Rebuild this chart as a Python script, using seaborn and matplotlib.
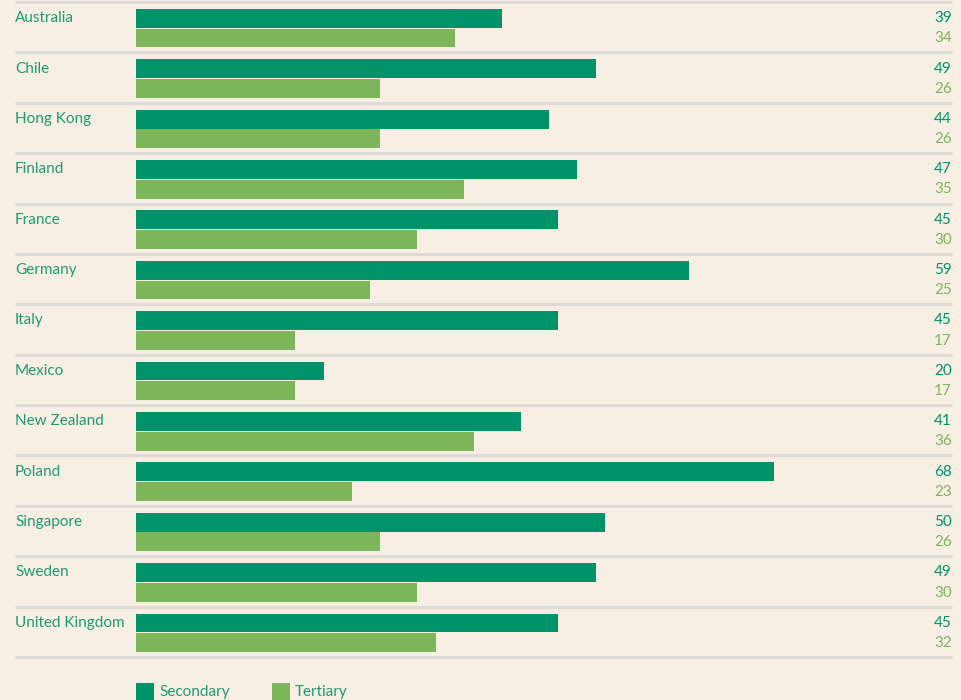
import numpy as np
import pandas as pd
import matplotlib.pyplot as plt
import matplotlib.transforms as mtransforms
from matplotlib.patches import Rectangle
import seaborn as sns

countries = ['Australia', 'Chile', 'Hong Kong', 'Finland', 'France', 'Germany', 'Italy',
             'Mexico', 'New Zealand', 'Poland', 'Singapore', 'Sweden', 'United Kingdom']
secondary = [39, 49, 44, 47, 45, 59, 45, 20, 41, 68, 50, 49, 45]
tertiary = [34, 26, 26, 35, 30, 25, 17, 17, 36, 23, 26, 30, 32]
levels = ['Secondary', 'Tertiary']

bg = '#f7efe3'
dark = '#00936a'
light = '#7db55a'
label_col = '#1f9a70'
line_col = '#dedbd6'

df = pd.DataFrame({'country': countries * 2,
                   'value': secondary + tertiary,
                   'level': [levels[0]] * len(countries) + [levels[1]] * len(countries)})

sns.set_style('white')
plt.rcParams['font.family'] = ['Lato', 'DejaVu Sans']

fig = plt.figure(figsize=(9.62, 7.0), dpi=100, facecolor=bg)
W, H = 962, 700
ax = fig.add_axes([136 / W, (H - 657) / H, (952 - 136) / W, 655 / H])
ax.set_facecolor(bg)

sns.barplot(data=df, x='value', y='country', hue='level', orient='h',
            palette=[dark, light], saturation=1, width=0.78, gap=0.04,
            linewidth=0, legend=False, ax=ax)

n = len(countries)
shift = 0.02
ax.set_xlim(0, 87)
ax.set_ylim(n - 0.5 - shift, -0.5 - shift)
for s in ax.spines.values():
    s.set_visible(False)
ax.set_xticks([])
ax.set_yticks([])
ax.set_xlabel('')
ax.set_ylabel('')

trans = mtransforms.blended_transform_factory(ax.transAxes, ax.transData)
x0 = (15 - 136) / (952 - 136)
for i in range(n + 1):
    ax.plot([x0, 1.0], [i - 0.5 - shift] * 2, color=line_col, lw=2.2,
            transform=trans, clip_on=False, solid_capstyle='butt')

for i, c in enumerate(countries):
    ax.text(x0, i - 0.2, c, transform=trans, ha='left', va='center',
            fontsize=11, color=label_col)
    ax.text(1.0, i - 0.2, str(secondary[i]), transform=trans, ha='right', va='center',
            fontsize=11, color=dark)
    ax.text(1.0, i + 0.2, str(tertiary[i]), transform=trans, ha='right', va='center',
            fontsize=11, color=light)

# legend at the bottom
for xs, lab, col in [(136, 'Secondary', dark), (272, 'Tertiary', light)]:
    fig.patches.append(Rectangle((xs / W, 0), 18 / W, 17 / H, transform=fig.transFigure,
                                 facecolor=col, edgecolor='none'))
    fig.text((xs + 23) / W, 8 / H, lab, ha='left', va='center', fontsize=11, color=label_col)

fig.savefig('out.png', dpi=100, facecolor=bg)
